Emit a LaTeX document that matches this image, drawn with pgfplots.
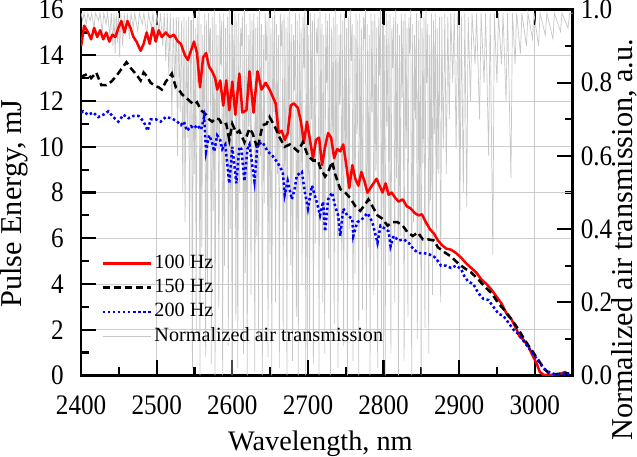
\documentclass[border=0pt]{standalone}
\usepackage{fontspec}
\setmainfont{Liberation Serif}
\newfontfamily\narrowfont{Liberation Serif}[FakeStretch=0.89]
\usepackage{pgfplots}
\pgfplotsset{compat=1.18}
\newcommand\tickfont{\fontsize{28}{30}\selectfont\narrowfont}
\pgfplotsset{legend image code/.code={\draw[#1] (0pt,0pt) -- (48pt,0pt);}}
\begin{document}
\begin{tikzpicture}
% right axis: ticks and labels only
\begin{axis}[width=487pt, height=362.5pt, scale only axis, xmin=2400, xmax=3050, ymin=0, ymax=1,
  axis y line*=right, axis x line=none,
  ytick={0,0.2,0.4,0.6,0.8,1.0}, minor ytick={0.1,0.3,0.5,0.7,0.9},
  tick align=inside, major tick length=15pt, minor tick length=8pt,
  every major tick/.append style={black, line width=2.2pt},
  every minor tick/.append style={black, line width=2.2pt},
  every outer y axis line/.append style={black, line width=2.4pt},
  /pgf/number format/fixed, /pgf/number format/fixed zerofill, /pgf/number format/precision=1, /pgf/number format/assume math mode=true,
  yticklabel style={font=\tickfont, inner sep=0pt}, yticklabel shift=8pt,
  ylabel={Normalized air transmission, a.u.},
  ylabel style={font=\fontsize{30}{32}\selectfont, inner sep=0pt, at={(axis description cs:1.105,0.371)}, anchor=center}]
\addplot[draw=none] coordinates {(2400,0)};
\end{axis}
% main axis with everything else
\begin{axis}[width=487pt, height=362.5pt, scale only axis, xmin=2400, xmax=3050, ymin=0, ymax=16,
  xtick={2400,2500,...,3000}, minor x tick num=1,
  ytick={0,2,...,16}, minor y tick num=1, ytick pos=left,
  grid=major, major grid style={draw=black!20, line width=0.9pt},
  tick align=inside, major tick length=15pt, minor tick length=8pt,
  every major tick/.append style={black, line width=2.2pt},
  every minor tick/.append style={black, line width=2.2pt},
  every outer x axis line/.append style={black, line width=2.4pt},
  every outer y axis line/.append style={black, line width=2.4pt},
  /pgf/number format/set thousands separator={}, /pgf/number format/assume math mode=true,
  xticklabel style={font=\tickfont, inner sep=0pt}, xticklabel shift=20pt,
  yticklabel style={font=\tickfont, inner sep=0pt}, yticklabel shift=17pt,
  xlabel={Wavelength, nm}, ylabel={Pulse Energy, mJ},
  xlabel style={font=\fontsize{28}{30}\selectfont, inner sep=0pt, at={(axis description cs:0.487,-0.2055)}, anchor=base},
  ylabel style={font=\fontsize{30}{32}\selectfont, inner sep=0pt, at={(axis description cs:-0.137,0.47)}, anchor=center},
  legend style={at={(axis description cs:0.039,0.341)}, anchor=north west, draw=none, fill=none,
    font=\fontsize{20}{22}\selectfont, row sep=1pt, inner sep=1pt, nodes={inner sep=2pt, text height=14.5pt, text depth=4.5pt}},
  legend cell align=left]
% normalized air transmission (0..1), shown against the right axis
\addplot[black!22, line width=0.7pt, forget plot, y filter/.expression={16*y}] coordinates {
(2400,0.99)(2402,0.97)(2404,0.99)(2407,0.96)(2409,0.99)(2412,0.97)(2414,0.99)(2417,0.95)(2419,0.99)(2423,0.97)
(2425,0.99)(2428,0.94)(2430,0.99)(2433,0.96)(2435,0.99)(2438,0.93)(2440,0.99)(2442,0.9)(2443.5,0.99)(2445,0.88)
(2446.5,0.99)(2448,0.91)(2449.5,0.99)(2451,0.87)(2452.5,0.99)(2455,0.9)(2457,0.99)(2459,0.93)(2461,0.99)(2464,0.92)
(2466,0.99)(2469,0.95)(2471,0.99)(2475,0.94)(2477,0.99)(2481,0.96)(2483,0.99)(2487,0.93)(2489,0.99)(2493,0.95)
(2495,0.99)(2498,0.92)(2500,0.99)(2503,0.94)(2505,0.99)(2508,0.9)(2510,0.99)(2512,0.86)(2514,0.99)(2516,0.82)
(2518,0.99)(2520,0.7)(2522,0.98)(2524,0.78)(2526,0.98)(2527.5,0.6)(2529,0.98)(2531,0.72)(2533,0.97)(2534.5,0.5)
(2536,0.98)(2537.5,0.42)(2539,0.97)(2540.5,0.65)(2542,0.98)(2543.5,0.3)(2545,0.97)
(2546,0.97)(2547.2,0.02)(2548.5,0.99)(2549.7,0.55)(2551,0.95)(2552.2,0.12)(2553.5,0.98)(2554.7,0.80)
(2556,1.0)(2557.2,0.00)(2558.5,0.96)(2559.7,0.35)(2561,0.93)(2562.2,0.70)(2563.5,0.99)(2564.7,0.05)
(2566,0.97)(2567.2,0.25)(2568.5,0.99)(2569.7,0.88)(2571,0.95)(2572.2,0.03)(2573.5,0.98)(2574.7,0.45)
(2576,1.0)(2577.2,0.00)(2578.5,0.96)(2579.7,0.62)(2581,0.93)(2582.2,0.18)(2583.5,0.99)(2584.7,0.85)
(2586,0.97)(2587.2,0.00)(2588.5,0.99)(2589.7,0.30)(2591,0.95)(2592.2,0.58)(2593.5,0.98)(2594.7,0.08)
(2596,1.0)(2597.2,0.40)(2598.5,0.96)(2599.7,0.00)(2601,0.93)(2602.2,0.75)(2603.5,0.99)(2604.7,0.15)
(2606,0.97)(2607.2,0.02)(2608.5,0.99)(2609.7,0.50)(2611,0.95)(2612.2,0.90)(2613.5,0.98)(2614.7,0.06)
(2616,1.0)(2617.2,0.28)(2618.5,0.96)(2619.7,0.00)(2621,0.93)(2622.2,0.68)(2623.5,0.99)(2624.7,0.22)
(2626,0.97)(2627.2,0.82)(2628.5,0.99)(2629.7,0.01)(2631,0.95)(2632.2,0.38)(2633.5,0.98)(2634.7,0.10)
(2636,1.0)(2637.2,0.60)(2638.5,0.96)(2639.7,0.00)(2641,0.93)(2642.2,0.47)(2643.5,0.99)(2644.7,0.86)
(2646,0.97)(2647.2,0.05)(2648.5,0.99)(2649.7,0.33)(2651,0.95)(2652.2,0.00)(2653.5,0.98)(2654.7,0.72)
(2656,1.0)(2657.2,0.20)(2658.5,0.96)(2659.7,0.55)(2661,0.93)(2662.2,0.02)(2663.5,0.99)(2664.7,0.90)
(2666,0.97)(2667.2,0.12)(2668.5,0.99)(2669.7,0.42)(2671,0.95)(2672.2,0.00)(2673.5,0.98)(2674.7,0.65)
(2676,1.0)(2677.2,0.30)(2678.5,0.96)(2679.7,0.04)(2681,0.93)(2682.2,0.78)(2683.5,0.99)(2684.7,0.16)
(2686,0.97)(2687.2,0.00)(2688.5,0.99)(2689.7,0.52)(2691,0.95)(2692.2,0.25)(2693.5,0.98)(2694.7,0.84)
(2696,1.0)(2697.2,0.00)(2698.5,0.96)(2699.7,0.44)(2701,0.93)(2702.2,0.10)(2703.5,0.99)(2704.7,0.70)
(2706,0.97)(2707.2,0.03)(2708.5,0.99)(2709.7,0.36)(2711,0.95)(2712.2,0.88)(2713.5,0.98)(2714.7,0.00)
(2716,1.0)(2717.2,0.58)(2718.5,0.96)(2719.7,0.20)(2721,0.93)(2722.2,0.06)(2723.5,0.99)(2724.7,0.80)
(2726,0.97)(2727.2,0.32)(2728.5,0.99)(2729.7,0.00)(2731,0.95)(2732.2,0.64)(2733.5,0.98)(2734.7,0.14)
(2736,1.0)(2737.2,0.48)(2738.5,0.96)(2739.7,0.02)(2741,0.93)(2742.2,0.74)(2743.5,0.99)(2744.7,0.26)
(2746,0.97)(2747.2,0.08)(2748.5,0.99)(2749.7,0.60)(2751,0.95)(2752.2,0.00)(2753.5,0.98)(2754.7,0.40)
(2756,1.0)(2757.2,0.86)(2758.5,0.96)(2759.7,0.04)(2761,0.93)(2762.2,0.28)(2763.5,0.99)(2764.7,0.66)
(2766,0.97)(2767.2,0.00)(2768.5,0.99)(2769.7,0.50)(2771,0.95)(2772.2,0.18)(2773.5,0.98)(2774.7,0.92)
(2776,1.0)(2777.2,0.10)(2778.5,0.96)(2779.7,0.35)(2781,0.93)(2782.2,0.00)(2783.5,0.99)(2784.7,0.72)
(2786,0.97)(2787.2,0.22)(2788.5,0.99)(2789.7,0.56)(2791,0.95)(2792.2,0.02)(2793.5,0.98)(2794.7,0.82)
(2796,1.0)(2797.2,0.12)(2798.5,0.96)(2799.7,0.46)(2801,0.93)(2802.2,0.00)(2803.5,0.99)(2804.7,0.68)
(2806,0.97)(2807.2,0.30)(2808.5,0.99)(2809.7,0.06)(2811,0.95)(2812.2,0.84)(2813.5,0.98)(2814.7,0.20)
(2816,1.0)(2817.2,0.54)(2818.5,0.96)(2819.7,0.00)(2821,0.93)(2822.2,0.38)(2823.5,0.99)(2824.7,0.76)
(2826,0.97)(2827.2,0.04)(2828.5,0.99)(2829.7,0.62)(2831,0.95)(2832.2,0.16)(2833.5,0.98)(2834.7,0.88)
(2836,1.0)(2837.2,0.00)(2838.5,0.96)(2839.7,0.42)(2841,0.93)(2842.2,0.70)(2843.5,0.99)(2844.7,0.10)
(2846,0.97)(2847.2,0.34)(2848.5,0.99)(2849.7,0.00)(2851,0.95)(2852.2,0.58)(2853.5,0.98)(2854.7,0.13)
(2856,1.0)(2857.2,0.80)(2858.5,0.96)(2859.7,0.06)(2861,0.93)(2862.2,0.48)(2863.5,0.99)(2864.7,0.22)
(2866,0.97)(2867.2,0.66)(2868.5,0.99)(2869.7,0.30)(2871,0.95)(2872.2,0.55)
(2874,0.98)(2875.5,0.2)(2877,0.98)(2879,0.62)(2881,0.99)(2883,0.55)(2885,0.98)(2887,0.7)(2889,0.99)(2891.5,0.8)
(2893.5,0.99)(2896,0.62)(2898,0.99)(2901,0.45)(2903,0.98)(2905.5,0.5)(2907.5,0.99)(2910,0.46)(2912,0.98)(2915,0.75)
(2917,0.99)(2921,0.85)(2923,0.99)(2927,0.7)(2929,0.99)(2933,0.8)(2935,0.99)(2939,0.6)(2941,0.99)(2944.5,0.33)
(2946.5,0.99)(2950,0.8)(2952,0.99)(2956,0.85)(2958,0.99)(2962,0.75)(2964,0.99)(2968.5,0.54)(2970.5,0.99)(2974,0.85)
(2976,0.99)(2981,0.88)(2983,0.99)(2989,0.9)(2991,0.99)(2997,0.92)(2999,0.99)(3005,0.9)(3007,0.99)(3014,0.93)
(3016,0.99)(3024,0.92)(3026,0.99)(3034,0.94)(3036,0.99)(3044,0.95)(3046,0.99)(3050,0.99)
};
\addplot[red, line width=2.5pt, line join=round] coordinates {
(2400,14.4)(2404,15.3)(2409.3,15.0)(2413.3,14.7)(2417.3,15.2)(2421.3,14.8)(2425.3,15.1)(2429.3,14.7)(2433.3,15.0)(2437.3,14.6)
(2441.3,14.9)(2445.3,14.8)(2449.3,15.2)(2453.3,15.5)(2457.3,15.0)(2461.3,15.5)(2465.3,15.2)(2469.3,14.8)(2473.3,14.6)(2478.7,14.2)
(2482.7,14.5)(2486.7,15.0)(2490.7,14.5)(2494.7,15.2)(2498.7,14.6)(2502.7,15.1)(2506.7,14.8)(2512,15.0)(2517.3,14.8)(2522.7,14.9)
(2528,14.6)(2532,14.5)(2537.3,14.0)(2541.3,13.8)(2545.3,14.2)(2549.3,14.6)(2553.3,14.1)(2557.3,12.6)(2561.3,13.9)(2565.3,14.1)
(2569.3,13.5)(2573.3,13.3)(2577.3,13.0)(2580,12.5)(2584,12.9)(2588,11.8)(2592,12.9)(2596,11.6)(2600,12.85)(2604,11.4)
(2609.3,13.2)(2613.3,11.5)(2618.7,11.6)(2622.7,13.3)(2628,11.5)(2633.3,13.3)(2638.7,12.5)(2644,12.8)(2649.3,12.5)(2653.3,12.2)
(2657.3,11.9)(2661.3,10.6)(2665.3,10.7)(2669.3,10.3)(2673.3,10.6)(2677.3,11.8)(2681.3,11.9)(2686.7,11.7)(2690.7,11.1)(2694.7,10.2)
(2698.7,11.1)(2702.7,10.3)(2706.7,9.5)(2710.7,10.3)(2714.7,10.4)(2718.7,9.2)(2722.7,10.0)(2726.7,10.6)(2730.7,10.4)(2734.7,9.5)
(2738.7,9.9)(2742.7,9.8)(2746.7,10.1)(2750.7,9.2)(2754.7,8.2)(2758.7,9.2)(2762.7,8.6)(2766.7,8.3)(2770.7,8.9)(2774.7,8.5)
(2778.7,8.0)(2782.7,8.2)(2786.7,8.4)(2790.7,8.6)(2794.7,8.3)(2798.7,8.0)(2802.7,8.4)(2806.7,7.9)(2810.7,8.0)(2814.7,7.8)
(2820,7.6)(2825.3,7.7)(2830.7,7.4)(2836,7.3)(2841.3,7.1)(2846.7,7.0)(2850.7,7.05)(2856,6.7)(2861.3,6.4)(2866.7,6.2)
(2872,5.9)(2877.3,5.7)(2882.7,5.55)(2889.3,5.5)(2896,5.35)(2902.7,5.15)(2909.3,4.9)(2916,4.7)(2922.7,4.5)(2929.3,4.2)
(2936,4.0)(2942.7,3.75)(2949.3,3.45)(2956,3.15)(2962.7,2.7)(2969.3,2.45)(2976,2.0)(2980,1.7)(2985.3,1.55)(2992,1.25)
(2996,0.95)(3002.7,0.5)(3006.7,0.15)(3012,0.02)(3022.7,0.03)(3032,0.05)(3040,0.15)(3045.3,0.05)
};
\addlegendentry{100 Hz}
\addplot[black, line width=2.5pt, dash pattern=on 7pt off 4pt] coordinates {
(2400,13.0)(2402.7,13.1)(2409.3,13.2)(2413.3,13.0)(2420,13.25)(2426.7,12.7)(2433.3,12.7)(2440,12.85)(2446.7,13.1)(2453.3,13.4)
(2460,13.7)(2466.7,13.4)(2473.3,13.15)(2478.7,12.9)(2482.7,13.25)(2486.7,13.1)(2492,12.8)(2498.7,12.65)(2502.7,12.6)(2506.7,12.5)
(2512,12.85)(2516,13.0)(2520,13.2)(2525.3,12.6)(2529.3,12.5)(2533.3,12.3)(2538.7,12.15)(2545.3,11.95)(2549.3,11.85)(2553.3,11.95)
(2558.7,11.6)(2565.3,11.4)(2569.3,11.2)(2573.3,11.1)(2578.7,11.25)(2582.7,11.2)(2586.7,10.95)(2592,11.0)(2596,10.3)(2600,11.0)
(2605.3,10.6)(2609.3,10.7)(2616,10.2)(2622.7,10.8)(2626.7,10.6)(2633.3,9.9)(2640,10.95)(2645.3,11.0)(2649.3,11.3)(2656,10.9)
(2662.7,10.4)(2669.3,10.0)(2676,10.1)(2680,10.0)(2686.7,9.8)(2693.3,10.2)(2700,9.6)(2706.7,9.4)(2713.3,9.4)(2716,9.1)
(2722.7,8.7)(2726.7,8.9)(2732,9.35)(2736,8.8)(2742.7,8.15)(2749.3,8.0)(2756,7.75)(2762.7,7.4)(2769.3,7.2)(2776,7.5)
(2780,7.7)(2785.3,7.4)(2792,7.0)(2798.7,6.85)(2805.3,6.55)(2812,6.7)(2818.7,6.7)(2825.3,6.55)(2832,6.25)(2838.7,6.1)
(2845.3,6.25)(2852,5.95)(2858.7,5.95)(2866.7,5.9)(2872,5.6)(2880,5.4)(2889.3,5.2)(2898.7,4.9)(2906.7,4.7)(2916,4.5)
(2925.3,4.2)(2933.3,3.9)(2942.7,3.6)(2952,3.15)(2960,2.85)(2969.3,2.45)(2978.7,2.0)(2986.7,1.55)(2996,1.1)(3005.3,0.65)
(3012,0.3)(3018.7,0.1)(3026.7,0.05)(3040,0.1)(3045.3,0.08)
};
\addlegendentry{150 Hz}
\addplot[blue, line width=2.5pt, dash pattern=on 2.5pt off 2.5pt] coordinates {
(2400,11.5)(2402.7,11.55)(2409.3,11.4)(2416,11.5)(2422.7,11.3)(2429.3,11.4)(2436,11.55)(2442.7,11.3)(2449.3,11.1)(2456,11.4)
(2462.7,11.25)(2469.3,11.35)(2476,11.35)(2482.7,11.1)(2488,10.7)(2492,11.2)(2498.7,11.2)(2505.3,11.1)(2512,11.3)(2518.7,11.25)
(2525.3,11.15)(2532,10.95)(2536,11.1)(2540,10.7)(2545.3,10.9)(2549.3,10.8)(2553.3,10.95)(2558.7,10.75)(2562.7,11.3)(2565.3,9.8)
(2569.3,10.5)(2573.3,10.2)(2576,9.8)(2580,10.5)(2584,10.3)(2586.7,9.9)(2590.7,10.1)(2596,8.4)(2600,10.0)(2605.3,8.4)
(2609.3,10.0)(2612,9.9)(2616,8.5)(2620,9.9)(2622.7,10.1)(2629.3,8.5)(2633.3,10.1)(2640,10.2)(2646.7,9.8)(2653.3,9.6)
(2660,9.3)(2666.7,8.9)(2669.3,7.9)(2673.3,8.5)(2678.7,7.7)(2682.7,8.2)(2685.3,8.75)(2692,8.9)(2696,8.0)(2700,7.3)
(2705.3,8.3)(2712,7.55)(2716,7.0)(2720,7.6)(2722.7,6.3)(2726.7,7.7)(2732,8.0)(2736,7.4)(2740,7.0)(2742.7,6.1)
(2746.7,7.3)(2752,7.0)(2758.7,6.85)(2760,6.1)(2765.3,6.7)(2772,6.85)(2778.7,7.1)(2785.3,6.7)(2792,5.8)(2796,6.55)
(2802.7,6.4)(2806.7,6.3)(2809.3,5.65)(2813.3,6.1)(2820,5.9)(2826.7,5.95)(2833.3,5.8)(2840,5.5)(2846.7,5.35)(2853.3,5.35)
(2860,5.3)(2866.7,5.2)(2872,5.0)(2876,4.8)(2882.7,4.8)(2889.3,4.7)(2896,4.8)(2902.7,4.65)(2906.7,4.35)(2912,4.1)
(2918.7,4.0)(2925.3,3.6)(2932,3.35)(2938.7,3.3)(2945.3,3.0)(2952,2.7)(2958.7,2.6)(2965.3,2.3)(2972,2.0)(2978.7,1.8)
(2985.3,1.5)(2992,1.2)(2998.7,0.9)(3005.3,0.6)(3012,0.3)(3018.7,0.15)(3026.7,0.05)(3040,0.08)(3045.3,0.06)
};
\addlegendentry{200 Hz}
\addlegendimage{black!22, line width=1pt}
\addlegendentry{Normalized air transmission}
\end{axis}
\end{tikzpicture}
\end{document}
